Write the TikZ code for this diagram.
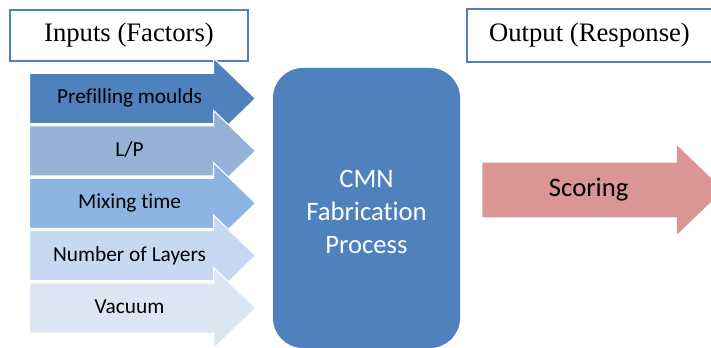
\documentclass[tikz,border=0pt]{standalone}
\usepackage{fontspec}
\setmainfont{Carlito}[Ligatures=NoCommon]
\newfontfamily\titlefont{Liberation Serif}
\usepackage{xcolor}
\usepackage{tikz}
\usetikzlibrary{shapes,arrows.meta,positioning}

\definecolor{boxblue}{HTML}{4F81BD}
\definecolor{lpblue}{HTML}{95B3D7}
\definecolor{mixblue}{HTML}{8DB4E2}
\definecolor{layerblue}{HTML}{C6D9F1}
\definecolor{vacblue}{HTML}{DCE6F2}
\definecolor{scorered}{HTML}{D99694}

\begin{document}
\begin{tikzpicture}[
		x=0.75pt, y=0.75pt,
		title/.style={rectangle, draw=boxblue, line width=1pt, fill=white,
			minimum width=178.5pt, minimum height=38.25pt,
			font=\titlefont\fontsize{20}{24}\selectfont},
		factor/.style={single arrow, draw=white, line width=0.8pt,
			single arrow head extend=11.6pt, single arrow tip angle=88,
			minimum width=60pt, minimum height=169.5pt,
			inner xsep=0pt, inner ysep=10.4pt, text height=12pt, text depth=4pt,
			font=\fontsize{16}{19}\selectfont},
		process/.style={rectangle, rounded corners=22.5pt, fill=boxblue,
			minimum width=140.25pt, minimum height=210pt, align=center,
			text=white, font=\fontsize{20}{24.5}\selectfont},
		response/.style={single arrow, fill=scorered,
			single arrow head extend=13.1pt, single arrow tip angle=88,
			minimum width=66.75pt, minimum height=180.75pt,
			inner xsep=0pt, inner ysep=10.25pt, text height=15pt, text depth=5pt,
			font=\fontsize{20}{24}\selectfont}
		]
		
		\useasboundingbox (0,0) rectangle (711,348);
		\clip (0,0) rectangle (711,348);
		
		% Column headings
		\node[title] (inputs) at (129,312.5) {Inputs (Factors)};
		\node[title, minimum width=183.75pt, minimum height=39.75pt] (output) at (589.5,312.5) {Output (Response)};
		
		% Factor arrows, stacked downwards
		\node[factor, fill=boxblue, anchor=tail] (prefill) at (29,249.5) {Prefilling moulds};
		\node[factor, fill=lpblue, below=39.3pt of prefill.tail, anchor=tail] (lp) {L/P};
		\node[factor, fill=mixblue, below=39.3pt of lp.tail, anchor=tail] (mixing) {Mixing time};
		\node[factor, fill=layerblue, below=39.3pt of mixing.tail, anchor=tail] (layers) {Number of Layers};
		\node[factor, fill=vacblue, below=39.3pt of layers.tail, anchor=tail] (vacuum) {Vacuum};
		
		% Process block
		\node[process, text height=68pt, text depth=0pt] (fab) at (366.5,140) {CMN\\Fabrication\\Process};
		
		% Response
		\node[response, anchor=tail] (scoring) at (482,158) {Scoring};
		
	\end{tikzpicture}
\end{document}
